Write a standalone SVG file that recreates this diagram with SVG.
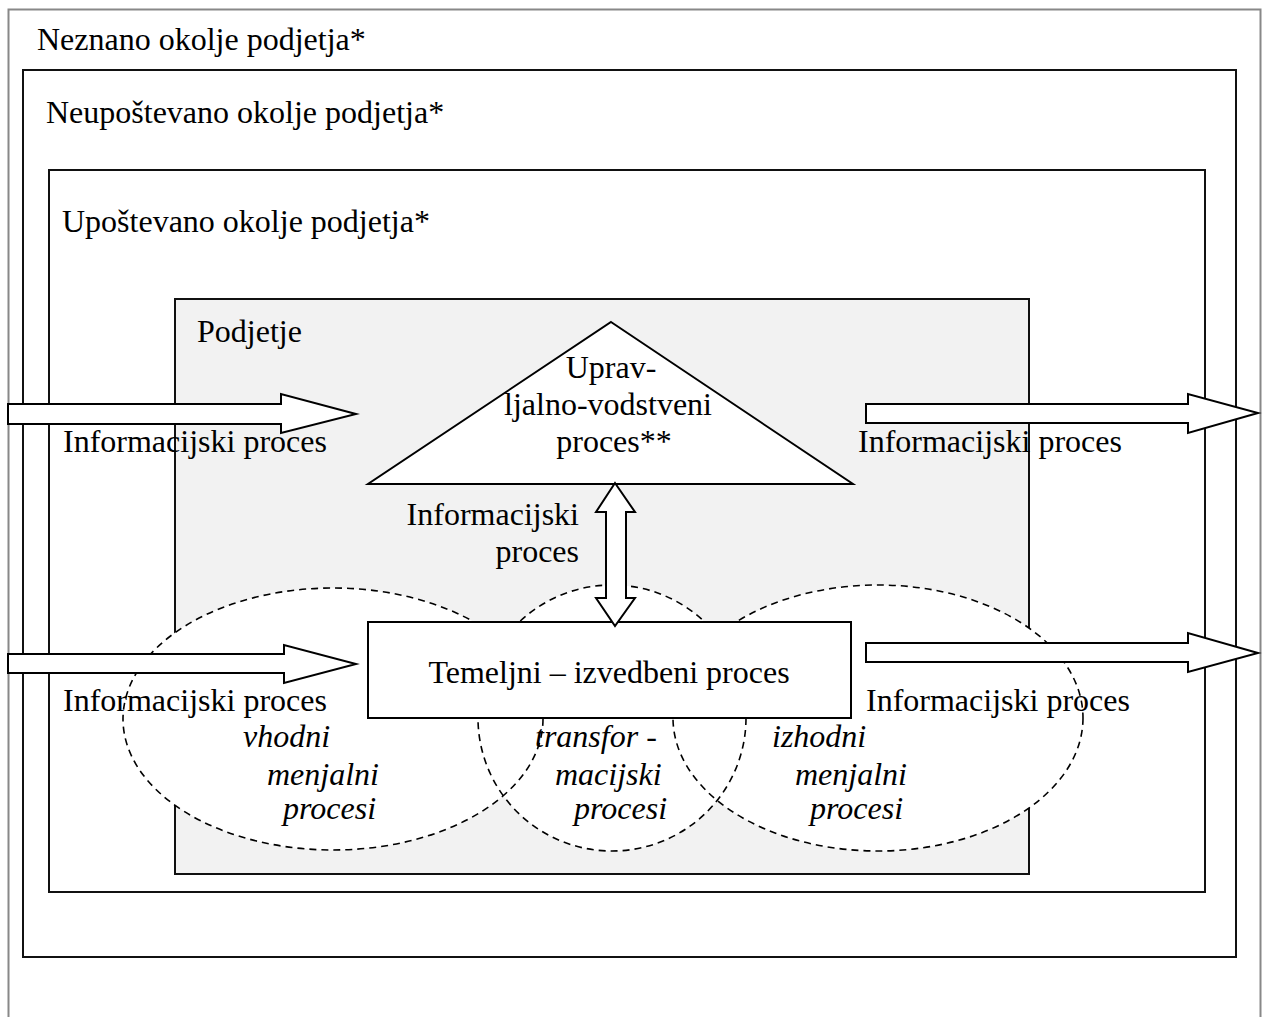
<svg xmlns="http://www.w3.org/2000/svg" width="1264" height="1017" viewBox="0 0 1264 1017">
  <style>
    text { font-family: "Liberation Serif", "Times New Roman", serif; font-size: 32px; fill: #000; }
    .it { font-style: italic; }
    .frame { fill: none; stroke: #111; stroke-width: 2; }
    .shape { fill: #fff; stroke: #000; stroke-width: 2; stroke-linejoin: miter; }
    .zone { fill: #fff; stroke: none; }
    .dash { fill: none; stroke: #000; stroke-width: 1.6; stroke-dasharray: 7 5; }
  </style>

  <rect width="1264" height="1017" fill="#fff"/>

  <!-- environment layers -->
  <g id="unknown-environment">
    <rect x="8.5" y="9.5" width="1252" height="1012" fill="none" stroke="#888" stroke-width="2"/>
    <text x="37" y="50">Neznano okolje podjetja*</text>
  </g>
  <g id="ignored-environment">
    <rect x="23" y="70" width="1213" height="887" class="frame"/>
    <text x="46" y="123">Neupoštevano okolje podjetja*</text>
  </g>
  <g id="considered-environment">
    <rect x="49" y="170" width="1156" height="722" class="frame"/>
    <text x="62" y="232">Upoštevano okolje podjetja*</text>
  </g>
  <g id="company">
    <rect x="175" y="299" width="854" height="575" fill="#f2f2f2" stroke="#111" stroke-width="2"/>
    <text x="197" y="342">Podjetje</text>
  </g>

  <!-- process areas: white fills first, dashed outlines on top -->
  <g id="process-areas">
    <ellipse cx="333" cy="719" rx="210" ry="131" class="zone"/>
    <ellipse cx="612" cy="718" rx="134" ry="133" class="zone"/>
    <ellipse cx="878" cy="718" rx="205" ry="133" class="zone"/>
    <ellipse cx="333" cy="719" rx="210" ry="131" class="dash"/>
    <ellipse cx="612" cy="718" rx="134" ry="133" class="dash"/>
    <ellipse cx="878" cy="718" rx="205" ry="133" class="dash"/>
  </g>

  <g id="management-process">
    <polygon points="611,322 853,484 368,484" class="shape"/>
    <text x="611" y="378" text-anchor="middle">Uprav-</text>
    <text x="608" y="415" text-anchor="middle">ljalno-vodstveni</text>
    <text x="614" y="452" text-anchor="middle">proces**</text>
  </g>

  <g id="core-process">
    <rect x="368" y="622" width="483" height="96" class="shape"/>
    <text x="609" y="683" text-anchor="middle">Temeljni – izvedbeni proces</text>
  </g>

  <!-- information flows -->
  <g id="connectors">
    <polygon points="8,404 281,404 281,394 356,414 281,433 281,424 8,424" class="shape"/>
    <polygon points="866,404 1188,404 1188,394 1258,413 1188,433 1188,423 866,423" class="shape"/>
    <polygon points="8,654 284,654 284,645 356,664 284,683 284,673 8,673" class="shape"/>
    <polygon points="866,643 1188,643 1188,633 1258,653 1188,672 1188,662 866,662" class="shape"/>
    <polygon points="615,483 635,512 626,512 626,598 635,598 615,626 596,598 606,598 606,512 596,512" class="shape"/>
  </g>

  <g id="flow-labels">
    <text x="63" y="452">Informacijski proces</text>
    <text x="858" y="452">Informacijski proces</text>
    <text x="63" y="711">Informacijski proces</text>
    <text x="866" y="711">Informacijski proces</text>
    <text x="579" y="525" text-anchor="end">Informacijski</text>
    <text x="579" y="562" text-anchor="end">proces</text>
  </g>

  <g id="area-labels">
    <text class="it" x="243" y="747">vhodni</text>
    <text class="it" x="267" y="785">menjalni</text>
    <text class="it" x="283" y="819">procesi</text>
    <text class="it" x="535" y="747">transfor -</text>
    <text class="it" x="555" y="785">macijski</text>
    <text class="it" x="574" y="819">procesi</text>
    <text class="it" x="772" y="747">izhodni</text>
    <text class="it" x="795" y="785">menjalni</text>
    <text class="it" x="810" y="819">procesi</text>
  </g>
</svg>
